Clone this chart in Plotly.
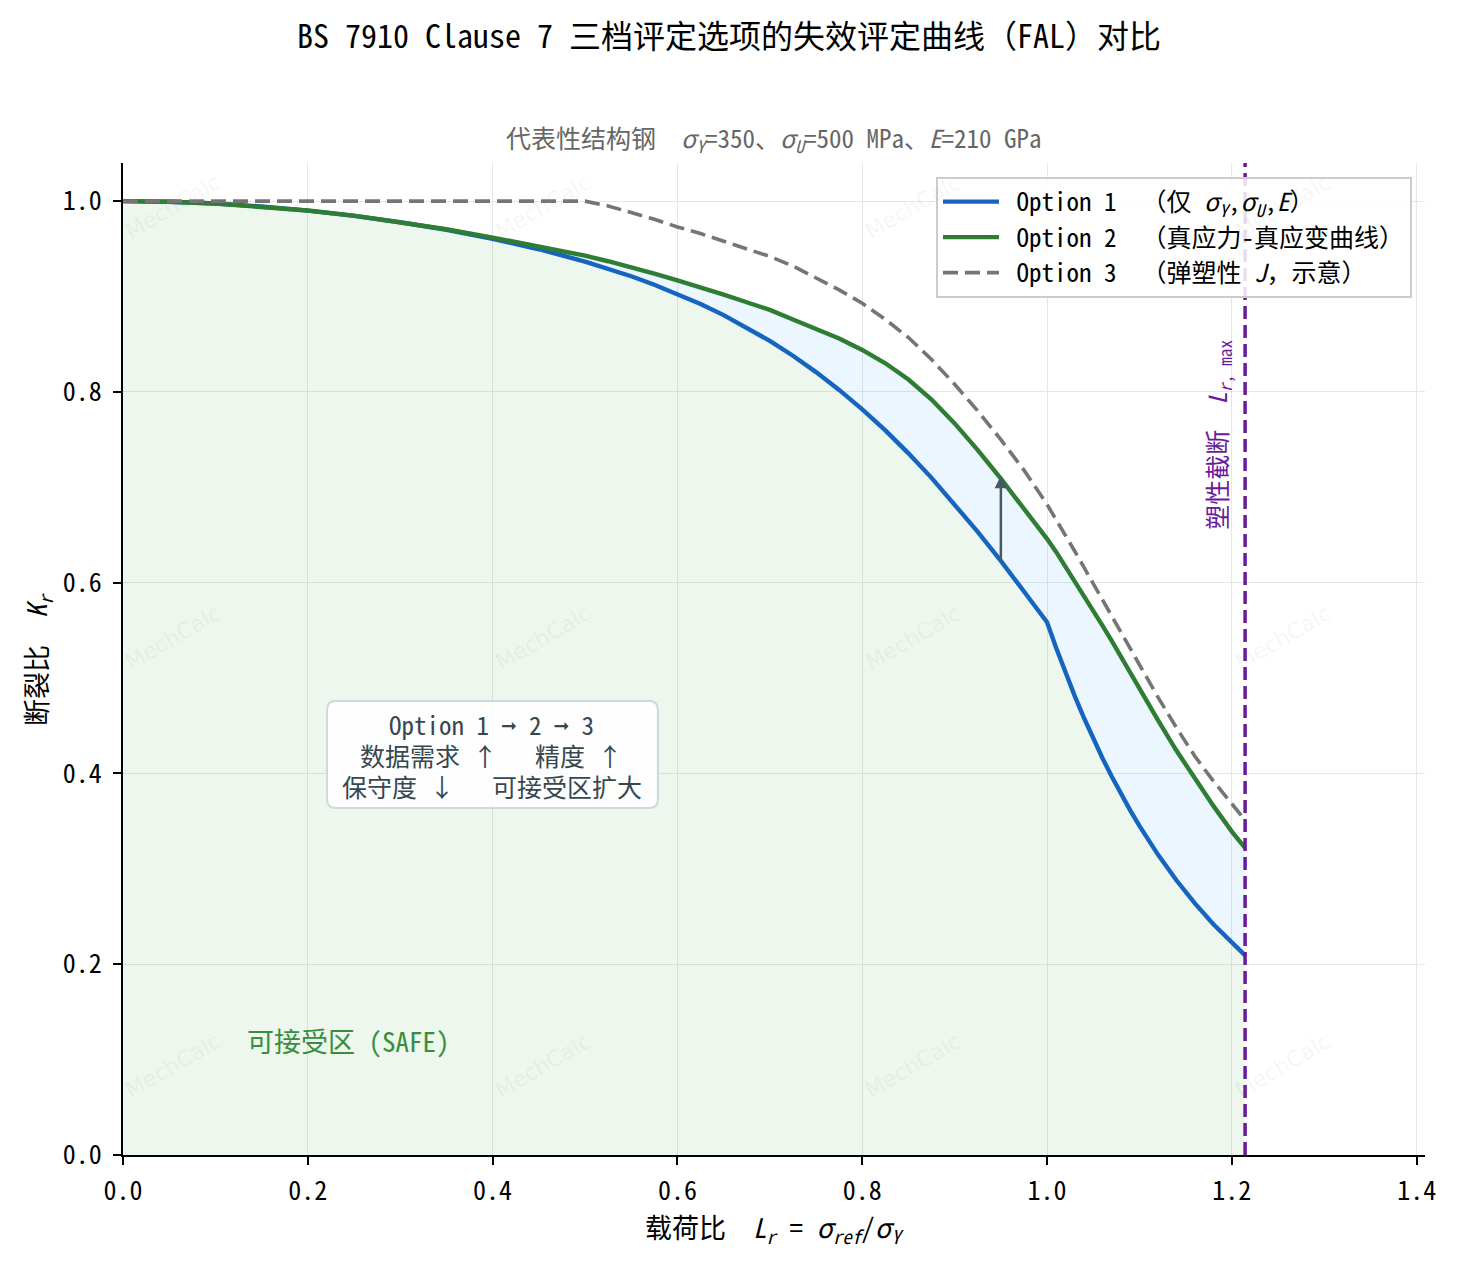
import plotly.graph_objects as go

# ---------------- data ----------------
Lr = [0.0, 0.05, 0.1, 0.15, 0.2, 0.25, 0.3, 0.35, 0.4, 0.45, 0.5,
      0.525, 0.55, 0.575, 0.6, 0.625, 0.65, 0.675, 0.7, 0.725, 0.75, 0.775, 0.8,
      0.825, 0.85, 0.875, 0.9, 0.925, 0.95, 0.975, 1.0,
      1.01, 1.02, 1.03, 1.04, 1.05, 1.06, 1.07, 1.08, 1.09, 1.10,
      1.12, 1.14, 1.16, 1.18, 1.20, 1.2143]
kr_opt1 = [1.0, 0.9994, 0.9975, 0.9944, 0.9901, 0.9846, 0.9779, 0.9700, 0.9606, 0.9496, 0.9367,
           0.9293, 0.9213, 0.9124, 0.9028, 0.8922, 0.8805, 0.8676, 0.8535, 0.8379, 0.8208, 0.8021, 0.7817,
           0.7596, 0.7356, 0.7099, 0.6824, 0.6533, 0.6229, 0.5912, 0.5586,
           0.5312, 0.5054, 0.4811, 0.4581, 0.4363, 0.4160, 0.3968, 0.3786, 0.3613, 0.3450,
           0.3149, 0.2880, 0.2638, 0.2419, 0.2222, 0.2093]
kr_opt2 = [1.0, 0.9994, 0.9975, 0.9944, 0.9902, 0.9848, 0.9782, 0.9705, 0.9618, 0.9525, 0.9428,
           0.937, 0.931, 0.924, 0.917, 0.910, 0.902, 0.894, 0.886, 0.876, 0.866, 0.856, 0.844,
           0.830, 0.813, 0.792, 0.767, 0.739, 0.709, 0.678, 0.646,
           0.632, 0.617, 0.602, 0.587, 0.571, 0.555, 0.539, 0.522, 0.506, 0.489,
           0.456, 0.424, 0.394, 0.366, 0.339, 0.322]
kr_opt3 = [1.0, 1.0, 1.0, 1.0, 1.0, 1.0, 1.0, 1.0, 1.0, 1.0, 1.0,
           0.995, 0.988, 0.981, 0.973, 0.966, 0.958, 0.950, 0.942, 0.932, 0.920, 0.907, 0.893,
           0.876, 0.857, 0.834, 0.808, 0.780, 0.750, 0.718, 0.682,
           0.666, 0.650, 0.633, 0.616, 0.599, 0.581, 0.564, 0.547, 0.530, 0.513,
           0.480, 0.448, 0.418, 0.392, 0.368, 0.351]
Lr_max = 1.2143
arrow_Lr = 0.95
arrow_from = 0.62
arrow_to = 0.712
x_ticks = [0.0, 0.2, 0.4, 0.6, 0.8, 1.0, 1.2, 1.4]
y_ticks = [0.0, 0.2, 0.4, 0.6, 0.8, 1.0]
series_names = [
    "\u00a0Option 1  （仅 <i>σ</i><sub><i>Y</i></sub>,<i>σ</i><sub><i>U</i></sub>,<i>E</i>）",
    "\u00a0Option 2  （真应力-真应变曲线）",
    "\u00a0Option 3  （弹塑性 <i>J</i>，示意）",
]
info_lines = ["Option 1 ➞ 2 ➞ 3", "数据需求 ↑   精度 ↑", "保守度 ↓   可接受区扩大"]

FONT = "Noto Sans Mono CJK SC, DejaVu Sans Mono, Noto Sans CJK SC, monospace"
BLUE = "#1565c0"
GREEN = "#2e7d32"
GRAY = "#757575"
PURPLE = "#6a1b9a"

fig = go.Figure()

# safe region under Option 1
fig.add_trace(go.Scatter(x=Lr, y=kr_opt1, mode="lines", line=dict(width=0, color=BLUE),
                         fill="tozeroy", fillcolor="rgba(76,175,80,0.10)",
                         showlegend=False, hoverinfo="skip"))
# band between Option 1 and Option 2
fig.add_trace(go.Scatter(x=Lr, y=kr_opt2, mode="lines", line=dict(width=0, color=GREEN),
                         fill="tonexty", fillcolor="rgba(33,150,243,0.09)",
                         showlegend=False, hoverinfo="skip"))

fig.add_trace(go.Scatter(x=Lr, y=kr_opt1, mode="lines", name=series_names[0], legendgroup="a",
                         line=dict(color=BLUE, width=4.4)))
fig.add_trace(go.Scatter(x=Lr, y=kr_opt2, mode="lines", name=series_names[1], legendgroup="b",
                         line=dict(color=GREEN, width=4.4)))
fig.add_trace(go.Scatter(x=Lr, y=kr_opt3, mode="lines", name=series_names[2], legendgroup="c",
                         line=dict(color=GRAY, width=3.6, dash="15px,7px")))

# plastic collapse cut-off
fig.add_shape(type="line", xref="x", yref="paper", x0=Lr_max, x1=Lr_max, y0=0, y1=1,
              line=dict(color=PURPLE, width=3.5, dash="13px,6px"))

# rounded info box (data coordinates)
bx0, bx1, by0, by1 = 0.2208, 0.5789, 0.3638, 0.4760
rx, ry = 0.0095, 0.0092
path = (f"M {bx0+rx},{by0} L {bx1-rx},{by0} Q {bx1},{by0} {bx1},{by0+ry} "
        f"L {bx1},{by1-ry} Q {bx1},{by1} {bx1-rx},{by1} L {bx0+rx},{by1} "
        f"Q {bx0},{by1} {bx0},{by1-ry} L {bx0},{by0+ry} Q {bx0},{by0} {bx0+rx},{by0} Z")
fig.add_shape(type="path", xref="x", yref="y", path=path, layer="above",
              fillcolor="rgba(255,255,255,0.85)", line=dict(color="#cfd8dc", width=2))

annotations = []
# watermarks
for px in [0.0384, 0.3226, 0.6068, 0.891]:
    for py in [0.956, 0.522, 0.09]:
        annotations.append(dict(xref="paper", yref="paper", x=px, y=py, text="MechCalc",
                                xanchor="center", yanchor="middle",
                                showarrow=False, textangle=-30,
                                font=dict(family="DejaVu Sans", size=22,
                                          color="rgba(150,150,150,0.09)")))

for txt, yv in zip(info_lines, [0.4519, 0.4194, 0.3869]):
    annotations.append(dict(xref="x", yref="y", x=0.3993, y=yv, xanchor="center",
                            yanchor="middle", text=txt, showarrow=False,
                            font=dict(family=FONT, size=25, color="#37474f")))

annotations += [
    # subtitle
    dict(xref="paper", yref="paper", x=0.5, y=1.025, yanchor="middle",
         text="代表性结构钢  <i>σ</i><sub><i>Y</i></sub>=350、<i>σ</i><sub><i>U</i></sub>=500 MPa、<i>E</i>=210 GPa",
         showarrow=False, font=dict(family=FONT, size=25, color="#666666")),
    # x-axis title
    dict(xref="paper", yref="paper", x=0.5, y=-0.0736, yanchor="middle",
         text="载荷比  <i>L</i><sub><i>r</i></sub> = <i>σ</i><sub><i>ref</i></sub>/<i>σ</i><sub><i>Y</i></sub>",
         showarrow=False, font=dict(family=FONT, size=27, color="#000000")),
    # y-axis title
    dict(xref="paper", yref="paper", x=-0.066, y=0.5, xanchor="center", yanchor="middle",
         text="断裂比  <i>K</i><sub><i>r</i></sub>", textangle=-90,
         showarrow=False, font=dict(family=FONT, size=27, color="#000000")),
    # Lr,max label
    dict(xref="x", yref="y", x=1.185, y=0.755, xanchor="center", yanchor="middle",
         text="塑性截断  <i>L</i><sub><i>r</i>, max</sub>", textangle=-90,
         showarrow=False, font=dict(family=FONT, size=25, color=PURPLE)),
    # safe region label
    dict(xref="x", yref="y", x=0.132, y=0.12, xanchor="left", yanchor="middle",
         text="可接受区 (SAFE)", showarrow=False,
         font=dict(family=FONT, size=27, color="#388e3c")),
    # arrow
    dict(xref="x", yref="y", x=arrow_Lr, y=arrow_to, axref="x", ayref="y",
         ax=arrow_Lr, ay=arrow_from, text="", showarrow=True, arrowhead=2,
         arrowsize=1.0, arrowwidth=2.5, arrowcolor="#455a64", standoff=0, startstandoff=0),
]

fig.update_layout(
    width=1458, height=1263,
    margin=dict(l=123, r=33, t=163, b=108),
    paper_bgcolor="white", plot_bgcolor="white",
    font=dict(family=FONT, size=25, color="#000000"),
    title=dict(text="BS 7910 Clause 7 三档评定选项的失效评定曲线（FAL）对比",
               x=0.5, xref="container", xanchor="center",
               y=1 - 37 / 1263, yref="container", yanchor="middle",
               font=dict(family=FONT, size=32, color="#000000")),
    legend=dict(x=0.990, y=0.986, xanchor="right", yanchor="top", traceorder="normal",
                bgcolor="rgba(255,255,255,0.85)", bordercolor="#cccccc", borderwidth=2,
                font=dict(family=FONT, size=25, color="#000000"),
                itemwidth=56, tracegroupgap=8),
    annotations=annotations,
    showlegend=True,
)

fig.update_xaxes(range=[0, 1.409], tickvals=x_ticks, tickformat=".1f",
                 showgrid=True, gridcolor="#e6e6e6", gridwidth=1,
                 showline=True, linecolor="black", linewidth=2, mirror=False,
                 ticks="outside", ticklen=8, tickwidth=2, tickcolor="black",
                 zeroline=False, tickfont=dict(family=FONT, size=26), ticklabelstandoff=4)
fig.update_yaxes(range=[0, 1.04], tickvals=y_ticks, tickformat=".1f",
                 showgrid=True, gridcolor="#e6e6e6", gridwidth=1,
                 showline=True, linecolor="black", linewidth=2, mirror=False,
                 ticks="outside", ticklen=8, tickwidth=2, tickcolor="black",
                 zeroline=False, tickfont=dict(family=FONT, size=26), ticklabelstandoff=6)

fig.write_html("out.html")
